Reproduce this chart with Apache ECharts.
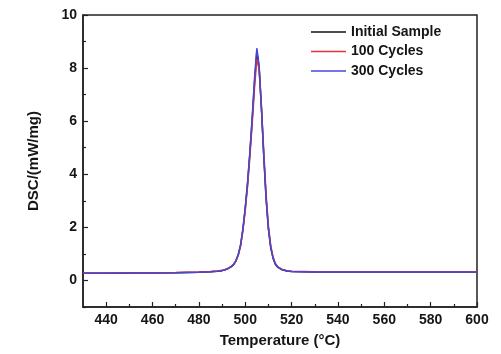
<!DOCTYPE html>
<html>
<head>
<meta charset="utf-8">
<script src="https://cdn.jsdelivr.net/npm/echarts@6/dist/echarts.min.js"></script>
<style>
html, body { margin: 0; padding: 0; background: #fff; }
#main { width: 501px; height: 354px; }
</style>
</head>
<body>
<div id="main"></div>
<script>
// temperature (°C)
var temps = [430, 440, 450, 460, 470, 480, 485, 488, 490, 492, 494, 495, 496, 497, 498, 499, 500, 501, 502, 503, 504, 505, 506, 507, 508, 509, 510, 511, 512, 513, 514, 516, 518, 520, 525, 530, 540, 560, 580, 600];

// DSC (mW/mg)
var initialSample = [0.27, 0.27, 0.28, 0.28, 0.29, 0.31, 0.33, 0.35, 0.37, 0.42, 0.52, 0.60, 0.74, 0.97, 1.33, 1.92, 2.70, 3.64, 4.78, 6.05, 7.45, 8.62, 8.00, 6.45, 4.68, 3.08, 1.94, 1.24, 0.84, 0.61, 0.50, 0.40, 0.36, 0.34, 0.33, 0.32, 0.32, 0.32, 0.32, 0.32];
var cycles100 = [0.28, 0.28, 0.29, 0.29, 0.30, 0.32, 0.34, 0.36, 0.38, 0.43, 0.53, 0.61, 0.74, 0.96, 1.30, 1.88, 2.64, 3.55, 4.66, 5.90, 7.25, 8.35, 7.95, 6.55, 4.85, 3.25, 2.05, 1.32, 0.88, 0.64, 0.52, 0.41, 0.37, 0.35, 0.34, 0.33, 0.33, 0.33, 0.33, 0.33];
var cycles300 = [0.27, 0.27, 0.28, 0.28, 0.29, 0.31, 0.33, 0.35, 0.37, 0.42, 0.52, 0.60, 0.75, 0.98, 1.35, 1.95, 2.75, 3.70, 4.85, 6.15, 7.60, 8.75, 8.10, 6.50, 4.70, 3.10, 1.95, 1.25, 0.85, 0.62, 0.50, 0.40, 0.36, 0.34, 0.33, 0.32, 0.32, 0.32, 0.32, 0.32];

var xMajor = [440, 460, 480, 500, 520, 540, 560, 580, 600];
var xMinor = [450, 470, 490, 510, 530, 550, 570, 590];
var yMajor = [0, 2, 4, 6, 8, 10];
var yMinor = [-1, 1, 3, 5, 7, 9];

var seriesNames = ['Initial Sample', '100 Cycles', '300 Cycles'];
var seriesColors = ['#111111', '#e8303a', '#4646d8'];

function pairs(vals) {
	var out = [];
	for (var i = 0; i < temps.length; i++) {
		out.push([temps[i], vals[i]]);
	}
	return out;
}

var font = 'Liberation Sans, Arial, sans-serif';
var myChart = echarts.init(document.getElementById('main'));

var option = {
	animation: false,
	backgroundColor: '#fff',
	textStyle: { fontFamily: font },
	grid: {
		left: 83, right: 24, top: 15, bottom: 47,
		show: true, borderColor: '#222', borderWidth: 1.5
	},
	legend: {
		orient: 'vertical',
		left: 306, top: 20,
		icon: 'rect',
		itemWidth: 35, itemHeight: 1.5, itemGap: 5.5,
		textStyle: { fontFamily: font, fontSize: 14, fontWeight: 'bold', color: '#151515' },
		data: seriesNames
	},
	xAxis: [{
		type: 'value',
		min: 430, max: 600,
		name: 'Temperature (°C)',
		nameLocation: 'middle',
		nameGap: 26,
		nameTextStyle: { fontFamily: font, fontSize: 15, fontWeight: 'bold', color: '#151515' },
		axisLine: { show: true, onZero: false, lineStyle: { color: '#222', width: 1.5 } },
		axisTick: { inside: true, length: 5, customValues: xMajor, lineStyle: { color: '#222', width: 1.2 } },
		axisLabel: { customValues: xMajor, margin: 6, fontFamily: font, fontSize: 14, fontWeight: 'bold', color: '#151515' },
		splitLine: { show: false }
	}, {
		type: 'value',
		min: 430, max: 600,
		position: 'bottom',
		axisLine: { show: false, onZero: false },
		axisTick: { inside: true, length: 3, customValues: xMinor, lineStyle: { color: '#222', width: 1.2 } },
		axisLabel: { show: false },
		splitLine: { show: false }
	}],
	yAxis: [{
		type: 'value',
		min: -1, max: 10,
		name: 'DSC/(mW/mg)',
		nameLocation: 'middle',
		nameGap: 42,
		nameTextStyle: { fontFamily: font, fontSize: 15, fontWeight: 'bold', color: '#151515' },
		axisLine: { show: true, onZero: false, lineStyle: { color: '#222', width: 1.5 } },
		axisTick: { inside: true, length: 5, customValues: yMajor, lineStyle: { color: '#222', width: 1.2 } },
		axisLabel: { customValues: yMajor, margin: 6, fontFamily: font, fontSize: 14, fontWeight: 'bold', color: '#151515' },
		splitLine: { show: false }
	}, {
		type: 'value',
		min: -1, max: 10,
		position: 'left',
		axisLine: { show: false, onZero: false },
		axisTick: { inside: true, length: 3, customValues: yMinor, lineStyle: { color: '#222', width: 1.2 } },
		axisLabel: { show: false },
		splitLine: { show: false }
	}],
	series: [
		{ name: seriesNames[0], type: 'line', data: pairs(initialSample), symbol: 'none', color: seriesColors[0], lineStyle: { width: 1.5 } },
		{ name: seriesNames[1], type: 'line', data: pairs(cycles100), symbol: 'none', color: seriesColors[1], lineStyle: { width: 1.5 } },
		{ name: seriesNames[2], type: 'line', data: pairs(cycles300), symbol: 'none', color: seriesColors[2], lineStyle: { width: 1.5 } }
	]
};

myChart.setOption(option);
</script>
</body>
</html>
